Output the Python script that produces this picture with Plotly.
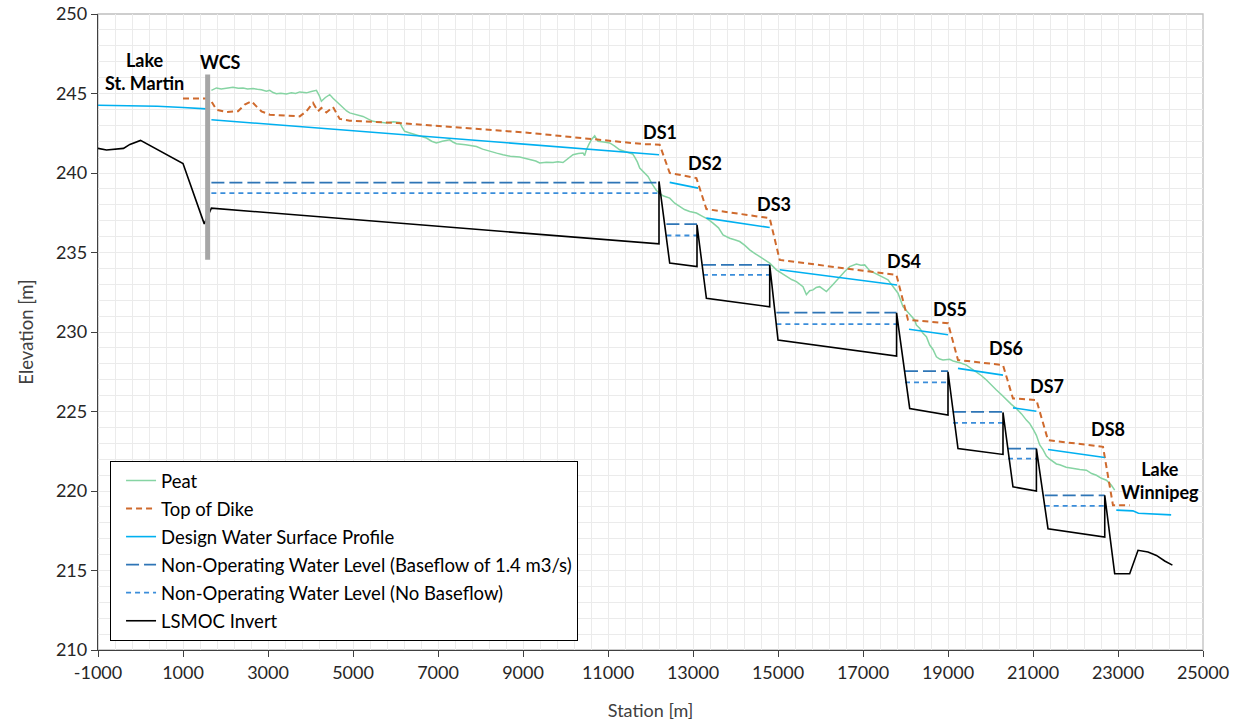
import plotly.graph_objects as go

FONT = "Lato"

# ---------------- data ----------------
peat_x = [1668, 1750, 1786, 1900, 2021, 2100, 2176, 2300, 2412, 2520, 2647, 2750, 2845, 2962, 3040, 3120,
          3198, 3300, 3433, 3550, 3650, 3746, 3830, 3904, 4020, 4139, 4200, 4256, 4350, 4452, 4530, 4609,
          4690, 4765, 4850, 4922, 5080, 5235, 5350, 5471, 5600, 5786, 5950, 6099, 6150, 6216, 6300, 6412,
          6560, 6727, 6850, 6962, 7100, 7275, 7350, 7433, 7650, 7904, 8050, 8216, 8380, 8529, 8700, 8922,
          9080, 9235, 9300, 9393, 9550, 9706, 9820, 9941, 10060, 10176, 10300, 10412, 10450, 10492, 10550,
          10609, 10687, 10765, 10900, 11040, 11150, 11275, 11400, 11511, 11580, 11629, 11690, 11746, 11850,
          11941, 12040, 12139, 12294, 12452, 12570, 12687, 12800, 12922, 13080, 13235, 13350, 13471, 13600,
          13706, 13863, 13980, 14099, 14220, 14334, 14450, 14569, 14690, 14805, 14962, 15080, 15198, 15320,
          15433, 15520, 15588, 15668, 15745, 15824, 15900, 15981, 16060, 16139, 16300, 16452, 16570, 16687,
          16845, 16950, 17040, 17158, 17280, 17393, 17500, 17588, 17706, 17824, 17941, 18020, 18099, 18216,
          18256, 18334, 18412, 18492, 18569, 18647, 18727, 18805, 18882, 19040, 19120, 19198, 19300, 19433,
          19550, 19668, 19790, 19904, 20020, 20139, 20260, 20374, 20490, 20609, 20730, 20844, 20921, 21000,
          21080, 21158, 21235, 21315, 21393, 21551, 21629, 21780, 21941, 22100, 22256, 22380, 22492, 22610,
          22727, 22845, 22922]
peat_y = [245.20, 245.30, 245.35, 245.28, 245.31, 245.36, 245.39, 245.33, 245.35, 245.29, 245.31, 245.27,
          245.24, 245.14, 245.20, 245.06, 244.99, 245.02, 244.97, 245.05, 245.00, 245.10, 245.06, 245.04,
          245.12, 245.20, 244.90, 244.51, 244.75, 244.93, 244.70, 244.51, 244.30, 244.09, 243.90, 243.78,
          243.65, 243.56, 243.40, 243.25, 243.20, 243.15, 243.22, 243.18, 242.90, 242.62, 242.55, 242.47,
          242.35, 242.20, 242.00, 241.89, 242.00, 242.09, 241.95, 241.84, 241.78, 241.67, 241.50, 241.36,
          241.25, 241.15, 241.05, 241.00, 240.90, 240.83, 240.75, 240.63, 240.68, 240.66, 240.70, 240.66,
          240.90, 241.15, 241.22, 241.26, 241.10, 241.46, 241.80, 242.09, 242.34, 241.99, 241.95, 241.89,
          241.70, 241.46, 241.35, 241.26, 241.20, 241.00, 240.70, 240.31, 240.05, 239.78, 239.30, 238.90,
          238.57, 238.42, 238.10, 237.89, 237.70, 237.58, 237.48, 237.26, 237.10, 236.85, 236.55, 236.11,
          235.90, 235.80, 235.69, 235.45, 235.17, 234.95, 234.74, 234.55, 234.33, 233.91, 233.70, 233.48,
          233.30, 233.17, 233.00, 232.85, 232.35, 232.60, 232.65, 232.80, 232.85, 232.70, 232.54, 233.00,
          233.48, 233.80, 234.11, 234.28, 234.20, 234.22, 233.86, 233.70, 233.59, 233.40, 233.28, 232.85,
          232.44, 231.59, 231.35, 231.18, 230.76, 230.44, 230.23, 229.92, 229.70, 229.18, 228.90, 228.44,
          228.30, 228.24, 228.28, 228.18, 228.13, 228.05, 227.92, 227.70, 227.50, 227.25, 226.98, 226.65,
          226.35, 226.05, 225.72, 225.45, 225.19, 224.85, 224.46, 224.25, 223.90, 223.50, 222.90, 222.60,
          222.20, 222.00, 221.70, 221.65, 221.50, 221.41, 221.35, 221.31, 221.10, 220.99, 220.80, 220.68,
          220.36, 220.05]

dike_x = [1000, 1580, 1668, 1786, 2021, 2294, 2452, 2609, 2727, 2845, 3040, 3433, 3746, 3904, 4059, 4176,
          4256, 4374, 4529, 4687, 4922, 6021, 9158, 11824, 12216, 12452, 13080, 13315, 14805, 15040, 17786,
          18059, 19000, 19235, 20294, 20529, 21080, 21353, 22647, 22882, 23275]
dike_y = [244.68, 244.68, 244.51, 243.98, 243.84, 243.88, 244.30, 244.51, 244.19, 243.88, 243.67, 243.60,
          243.56, 243.88, 244.41, 243.88, 244.09, 243.81, 244.15, 243.40, 243.29, 243.15, 242.52, 241.82,
          241.78, 240.00, 239.68, 237.73, 237.16, 234.53, 233.59, 230.76, 230.55, 228.24, 227.92, 225.82,
          225.72, 223.20, 222.78, 219.10, 219.10]

dwsp_x = [-1000, 400, 1000, 1550, None, 1668, 12200, None, 12452, 13120, None, 13315, 14805, None,
          15040, 17800, None, 18082, 19000, None, 19235, 20294, None, 20529, 21080, None, 21353, 22688,
          None, 22960, 23350, 23480, 23900, 24250]
dwsp_y = [244.26, 244.20, 244.12, 244.03, None, 243.35, 241.15, None, 239.41, 239.05, None, 237.16, 236.57,
          None, 233.91, 232.96, None, 230.17, 229.83, None, 227.71, 227.29, None, 225.23, 225.02, None,
          222.61, 222.11, None, 218.80, 218.75, 218.60, 218.52, 218.50]

nowl_start = [1668, 12374, 13235, 14962, 17988, 19118, 20412, 21275]
nowl_end = [12200, 13094, 14805, 17790, 19000, 20294, 21080, 22688]
nowl_base = [239.40, 236.78, 234.22, 231.22, 227.54, 224.98, 222.67, 219.73]
nowl_zero = [238.74, 236.07, 233.59, 230.50, 226.83, 224.29, 222.04, 219.06]

inv_x = [-1000, -800, -400, -250, 0, 1000, 1500, 1668, 12200, 12200, 12452, 13094, 13094, 13315, 14805,
         14805, 15000, 17790, 17790, 18099, 19000, 19000, 19235, 20294, 20294, 20529, 21080, 21080, 21353,
         22688, 22688, 22922, 23275, 23471, 23706, 23904, 24099, 24280]
inv_y = [241.55, 241.45, 241.55, 241.80, 242.05, 240.60, 236.80, 237.79, 235.54, 239.47, 234.33, 234.11,
         236.74, 232.12, 231.59, 234.22, 229.50, 228.49, 231.20, 225.19, 224.77, 227.50, 222.67, 222.30,
         224.94, 220.26, 220.00, 222.67, 217.63, 217.10, 219.73, 214.80, 214.80, 216.27, 216.16, 215.95,
         215.60, 215.34]

wcs_x = [1580, 1580]
wcs_y = [234.54, 246.19]

labels = ["Lake<br>St. Martin", "WCS", "DS1", "DS2", "DS3", "DS4", "DS5", "DS6", "DS7", "DS8",
          "Lake<br>Winnipeg"]
label_x = [90, 1880, 12216, 13275, 14899, 17958, 19040, 20358, 21322, 22758, 23982]
label_y = [246.36, 246.96, 242.6, 240.65, 238.06, 234.47, 231.45, 228.99, 226.6, 223.89, 220.68]

x_tick_vals = [-1000, 1000, 3000, 5000, 7000, 9000, 11000, 13000, 15000, 17000, 19000, 21000, 23000, 25000]
x_tick_text = ["-1000", "1000", "3000", "5000", "7000", "9000", "11000", "13000", "15000", "17000",
               "19000", "21000", "23000", "25000"]
y_tick_vals = [210, 215, 220, 225, 230, 235, 240, 245, 250]
y_tick_text = ["210", "215", "220", "225", "230", "235", "240", "245", "250"]


def segments(starts, ends, levels):
    xs, ys = [], []
    for s, e, v in zip(starts, ends, levels):
        xs += [s, e, None]
        ys += [v, v, None]
    return xs, ys


fig = go.Figure()

fig.add_trace(go.Scatter(x=peat_x, y=peat_y, mode="lines", name="Peat",
                         line=dict(color="#86D4A3", width=1.5), legendgroup="a"))
fig.add_trace(go.Scatter(x=dike_x, y=dike_y, mode="lines", name="Top of Dike",
                         line=dict(color="#CF6A2D", width=2, dash="6px,4px"), legendgroup="b"))
fig.add_trace(go.Scatter(x=dwsp_x, y=dwsp_y, mode="lines", name="Design Water Surface Profile",
                         line=dict(color="#00B0F0", width=1.6), connectgaps=False, legendgroup="c"))
bx, by = segments(nowl_start, nowl_end, nowl_base)
fig.add_trace(go.Scatter(x=bx, y=by, mode="lines",
                         name="Non-Operating Water Level (Baseflow of 1.4 m3/s)",
                         line=dict(color="#2E75B6", width=1.8, dash="13px,5px"), legendgroup="d"))
zx, zy = segments(nowl_start, nowl_end, nowl_zero)
fig.add_trace(go.Scatter(x=zx, y=zy, mode="lines",
                         name="Non-Operating Water Level (No Baseflow)",
                         line=dict(color="#3A8DDA", width=1.8, dash="5px,4px"), legendgroup="e"))
fig.add_trace(go.Scatter(x=inv_x, y=inv_y, mode="lines", name="LSMOC Invert",
                         line=dict(color="#000000", width=1.6), legendgroup="f"))
fig.add_trace(go.Scatter(x=wcs_x, y=wcs_y, mode="lines", showlegend=False,
                         line=dict(color="#A6A6A6", width=5)))

for t, lx, ly in zip(labels, label_x, label_y):
    fig.add_annotation(x=lx, y=ly, text="<b>" + t + "</b>", showarrow=False,
                       font=dict(family=FONT, size=18, color="#000000"), align="center")

grid = "#EBEBEB"
axis_font = dict(family=FONT, size=18, color="#262626")
fig.update_layout(
    width=1238, height=726,
    margin=dict(l=98, r=35, t=14, b=76),
    paper_bgcolor="white", plot_bgcolor="white",
    font=dict(family=FONT, size=18, color="#404040"),
    showlegend=True,
    legend=dict(x=0.0109, y=0.2972, xanchor="left", yanchor="top",
                bgcolor="white", bordercolor="#000000", borderwidth=1,
                font=dict(family=FONT, size=18.5, color="#000000"),
                tracegroupgap=1, traceorder="grouped", indentation=10),
    xaxis=dict(range=[-1000, 25000], tickmode="array", tickvals=x_tick_vals, ticktext=x_tick_text,
               showgrid=True, gridcolor=grid,
               minor=dict(tickmode="linear", tick0=-1000, dtick=400, showgrid=True, gridcolor=grid),
               showline=True, linecolor="#404040", linewidth=1.3, mirror=False,
               ticks="outside", ticklen=6, tickcolor="#404040", zeroline=False, automargin=False,
               title=dict(text="Station [m]", font=dict(family=FONT, size=18, color="#404040"), standoff=22),
               tickfont=axis_font),
    yaxis=dict(range=[210, 250], tickmode="array", tickvals=y_tick_vals, ticktext=y_tick_text,
               showgrid=True, gridcolor=grid,
               minor=dict(tickmode="linear", tick0=210, dtick=1, showgrid=True, gridcolor=grid),
               showline=True, linecolor="#404040", linewidth=1.3, mirror=False,
               ticks="outside", ticklen=6, tickcolor="#404040", zeroline=False, automargin=False,
               ticklabeloverflow="allow",
               title=dict(text="Elevation [m]", font=dict(family=FONT, size=18.5, color="#404040"), standoff=17),
               tickfont=axis_font),
)
fig.add_shape(type="rect", xref="paper", yref="paper", x0=0, y0=0, x1=1, y1=1,
              line=dict(color="#BFBFBF", width=1.3), layer="below")

fig.write_html("out.html", config={"displayModeBar": False},
               post_script="document.body.style.margin='0px';")
